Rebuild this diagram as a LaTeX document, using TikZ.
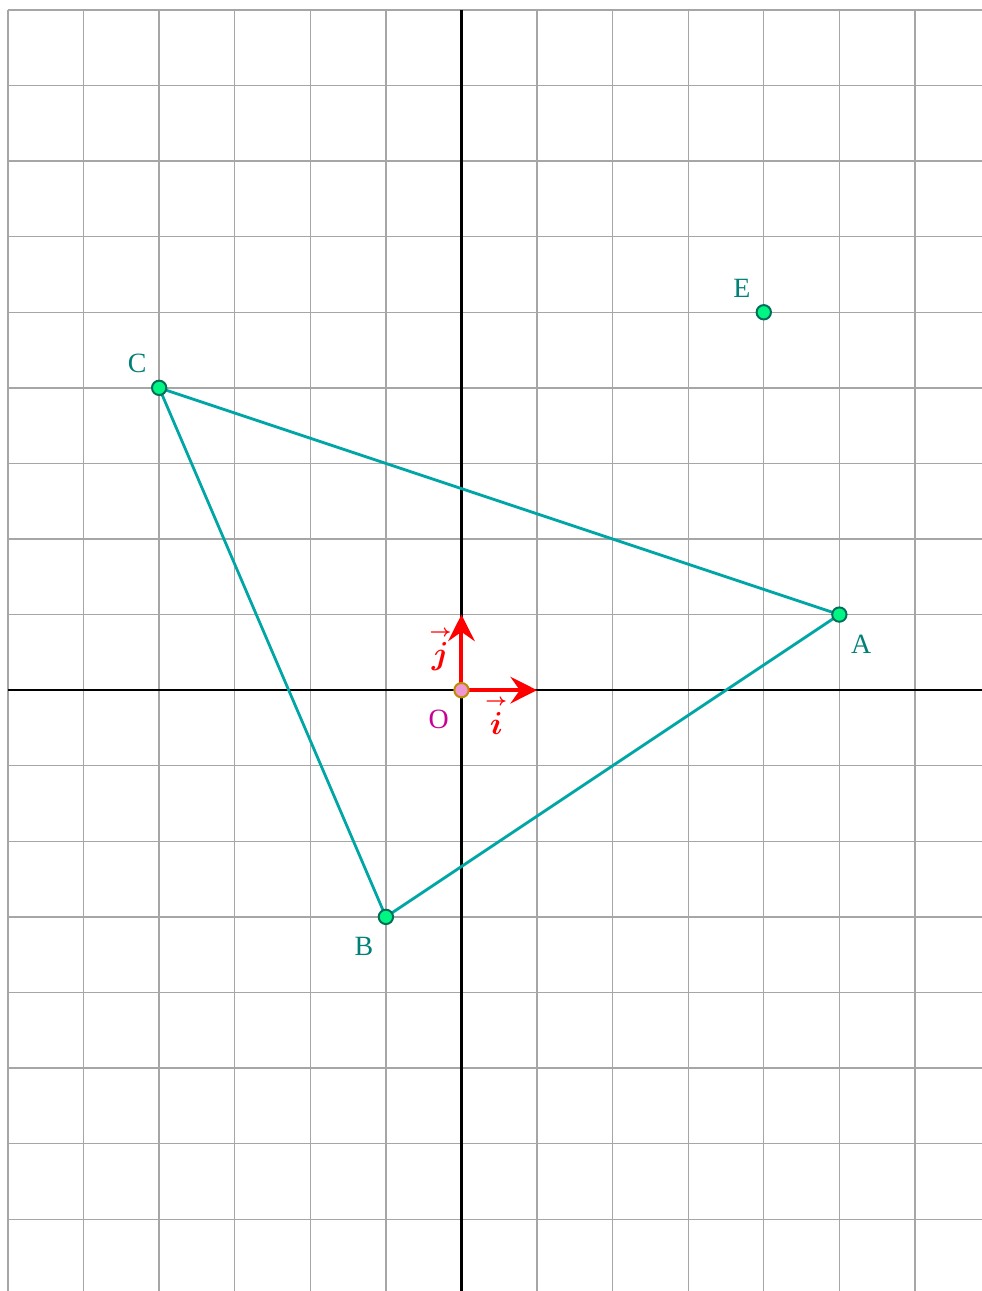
\documentclass[tikz,border=0pt]{standalone}
\usepackage{amsmath}
\usepackage{fontspec}
\setmainfont{Liberation Serif}
\usepackage{tikz}
\usetikzlibrary{arrows.meta,positioning,calc}
\definecolor{trianglecol}{RGB}{0,166,166}
\definecolor{labelcol}{RGB}{0,128,118}
\definecolor{ptfill}{RGB}{0,245,130}
\definecolor{ptdraw}{RGB}{0,110,90}
\definecolor{ofill}{RGB}{240,150,210}
\definecolor{odraw}{RGB}{190,140,0}
\definecolor{olabel}{RGB}{200,0,150}
\newcommand{\basename}[1]{$\overset{\raisebox{0pt}{$\scriptscriptstyle\rightarrow$}}{#1}$}
\tikzstyle{gridline}=[draw=gray!70, line width=0.5pt]
\tikzstyle{axisline}=[draw=black, line width=1pt]
\tikzstyle{sideline}=[draw=trianglecol, line width=1.05pt]
\tikzstyle{ptnode}=[circle, draw=ptdraw, fill=ptfill, line width=0.75pt, inner sep=0pt, minimum size=5.4pt]
\tikzstyle{ptlabel}=[text=labelcol, font=\fontsize{10.5}{12}\selectfont, inner sep=0pt]
\tikzstyle{veclabel}=[text=red, font=\fontsize{12}{14}\selectfont\boldmath, inner sep=0pt]
\tikzstyle{basevec}=[-{Stealth[length=10pt,width=10pt,inset=3.5pt]}, red, line width=1.5pt]

\begin{document}
\begin{tikzpicture}
        \useasboundingbox (-6.106,-7.95) rectangle (6.887,9.132);
        \draw[gridline] (-6,-7.95) grid (6.887,9);
        \coordinate (xl) at (-6,0);
        \coordinate (xr) at (6.887,0);
        \coordinate (yb) at (0,-7.95);
        \coordinate (yt) at (0,9);
        \draw[axisline] (xl) -- (xr);
        \draw[axisline] (yb) -- (yt);
        % triangle
        \coordinate (A) at (5,1);
        \coordinate (B) at (-1,-3);
        \coordinate (C) at (-4,4);
        \coordinate (E) at (4,5);
        \coordinate (O) at (0,0);
        \coordinate (I) at (1,0);
        \coordinate (J) at (0,1);
        \draw[sideline] (A) -- (B) -- (C) -- cycle;
        % base vectors
        \draw[basevec] (O) -- (I);
        \draw[basevec] (O) -- (J);
        \node[veclabel] (li) at ($(O)+(0.46,-0.33)$) {\basename{i}};
        \node[veclabel] (lj) at ($(O)+(-0.28,0.55)$) {\basename{j}};
        \node[ptnode] (pA) at (A) {};
        \node[ptnode] (pB) at (B) {};
        \node[ptnode] (pC) at (C) {};
        \node[ptnode] (pE) at (E) {};
        \node[circle, draw=odraw, fill=ofill, line width=0.75pt, inner sep=0pt, minimum size=5.4pt] (pO) at (O) {};
        \node[ptlabel] (lA) at ($(pA)+(0.29,-0.39)$) {A};
        \node[ptlabel] (lB) at ($(pB)+(-0.29,-0.39)$) {B};
        \node[ptlabel] (lC) at ($(pC)+(-0.29,0.33)$) {C};
        \node[ptlabel] (lE) at ($(pE)+(-0.29,0.31)$) {E};
        \node[ptlabel, text=olabel] (lO) at ($(pO)+(-0.3,-0.39)$) {O};
      \end{tikzpicture}
\end{document}
